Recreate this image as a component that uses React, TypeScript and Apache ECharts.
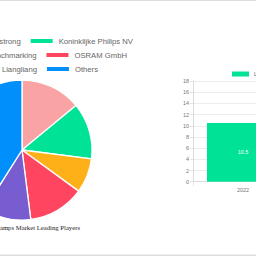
import React, { useEffect, useRef } from "react";
import * as echarts from "echarts";

const playerNames = [
  "Shenzhen Eastrong",
  "Koninklijke Philips NV",
  "Lighting Benchmarking",
  "OSRAM GmbH",
  "Foshan Liangliang",
  "Others",
];
const playerShares = [14, 13, 8, 13, 11, 41];
const playerColors = ["#F9A3A4", "#00E396", "#FEB019", "#FF4560", "#775DD0", "#008FFB"];

const years = ["2022"];
const marketValues = [10.5];
const marketSeriesName = "Lighting Market Size";
const yTicksMax = 18;
const yTickStep = 2;

const titleText = "LED Lamps Market Leading Players";

const LEG_FONT = 7.7;
const LEG_FAMILY = "Liberation Sans, Arial";

export default function App() {
  const ref = useRef<HTMLDivElement>(null);
  useEffect(() => {
    if (!ref.current) return;
    const chart = echarts.init(ref.current, undefined, { renderer: "svg" });
    const legendRowRights = [133, 127, 98];
    const legendRowTops = [36, 50, 64];
    const legends: any[] = [0, 1, 2].map((r) => ({
      data: [playerNames[r * 2], playerNames[r * 2 + 1]],
      orient: "horizontal",
      right: 256 - legendRowRights[r],
      width: 400,
      top: legendRowTops[r],
      padding: 0,
      itemWidth: 24,
      itemHeight: 6,
      itemGap: 8,
      icon: "rect",
      selectedMode: false,
      textStyle: { fontSize: LEG_FONT, color: "#666", fontFamily: LEG_FAMILY, lineHeight: 10 },
    }));
    legends.push({
      data: [marketSeriesName],
      left: 232,
      top: 69,
      width: 200,
      padding: 0,
      itemWidth: 17,
      itemHeight: 5,
      icon: "rect",
      selectedMode: false,
      textStyle: { fontSize: 5.5, color: "#666", fontFamily: LEG_FAMILY, lineHeight: 10 },
    });
    chart.setOption({
      animation: false,
      legend: legends,
      grid: { left: 193, top: 81, width: 100, height: 100.7, containLabel: false, outerBoundsMode: "none" },
      xAxis: {
        type: "category",
        data: years,
        axisLine: { show: true, lineStyle: { color: "#dcdcdc", width: 1 } },
        axisTick: { show: true, length: 4, lineStyle: { color: "#e6e6e6" } },
        axisLabel: { fontSize: 5.5, color: "#777", margin: 5, fontFamily: LEG_FAMILY },
      },
      yAxis: {
        type: "value",
        min: 0,
        max: yTicksMax,
        interval: yTickStep,
        axisLine: { show: true, lineStyle: { color: "#dcdcdc", width: 1 } },
        axisTick: { show: true, length: 3, lineStyle: { color: "#e6e6e6" } },
        splitLine: { show: true, lineStyle: { color: "#ececec", width: 1 } },
        axisLabel: { fontSize: 5.5, color: "#777", margin: 4, fontFamily: LEG_FAMILY },
      },
      series: [
        {
          type: "pie",
          center: [22, 150],
          radius: 70,
          startAngle: 90,
          clockwise: true,
          label: { show: false },
          labelLine: { show: false },
          itemStyle: { borderColor: "#fff", borderWidth: 1.3 },
          data: playerNames.map((n, i) => ({
            name: n,
            value: playerShares[i],
            itemStyle: { color: playerColors[i] },
          })),
        },
        {
          type: "bar",
          name: marketSeriesName,
          data: marketValues,
          barWidth: 72,
          itemStyle: { color: "#00E396" },
          label: {
            show: true,
            position: "inside",
            color: "#fff",
            fontSize: 5.5,
            fontFamily: LEG_FAMILY,
          },
        },
      ],
      graphic: [
        {
          type: "text",
          x: 80,
          y: 227.7,
          style: {
            text: titleText,
            align: "right",
            verticalAlign: "middle",
            fontSize: 6.7,
            fontFamily: "Liberation Serif, Times New Roman, serif",
            fill: "#222",
          },
        },
        { type: "rect", shape: { x: 0, y: 0, width: 256, height: 1 }, style: { fill: "#dddddd" } },
        { type: "rect", shape: { x: 0, y: 254.5, width: 256, height: 1.5 }, style: { fill: "#dddddd" } },
      ],
    });
    return () => chart.dispose();
  }, []);
  return (
    <div
      ref={ref}
      style={{ position: "fixed", left: 0, top: 0, width: 256, height: 256, background: "#fff" }}
    />
  );
}
